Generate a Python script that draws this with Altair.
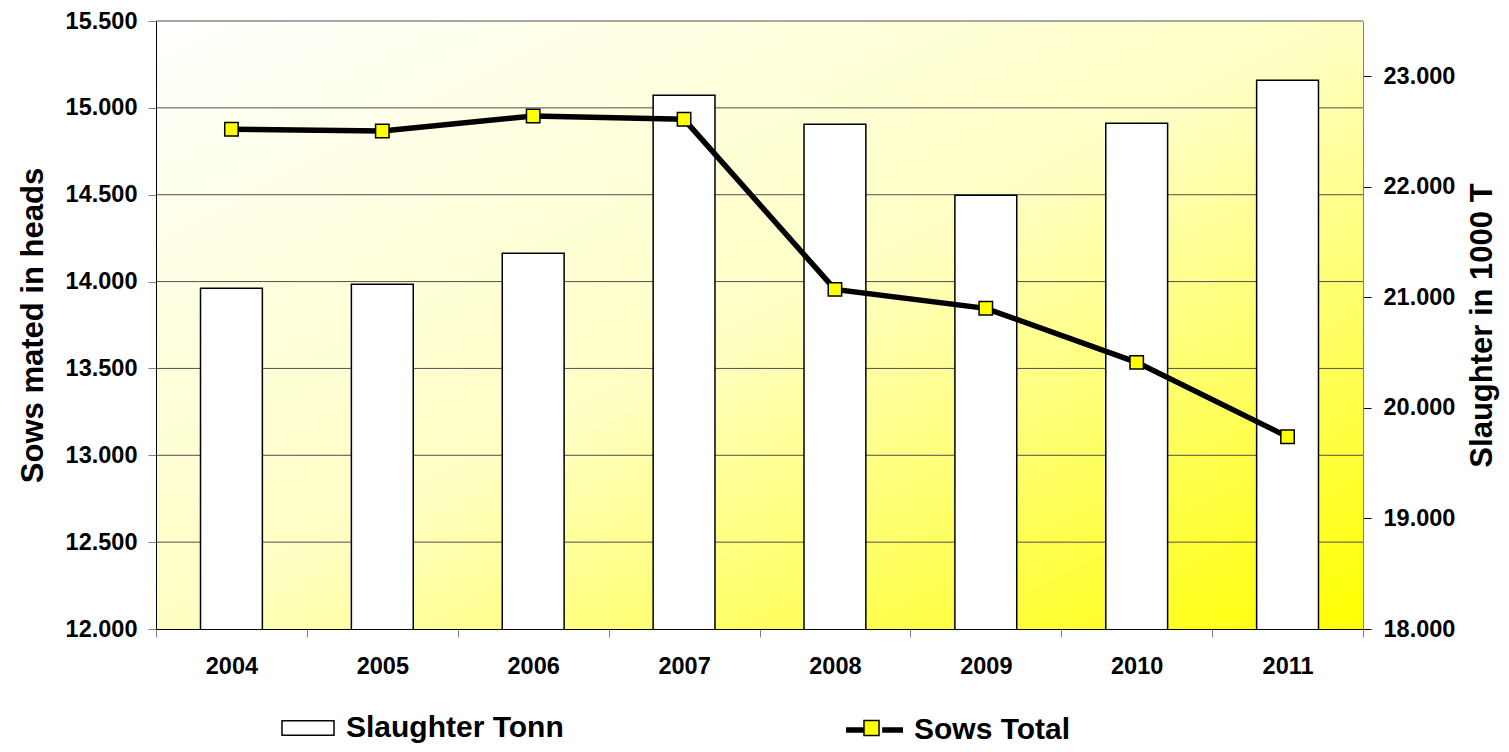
import altair as alt
import pandas as pd

years = ["2004", "2005", "2006", "2007", "2008", "2009", "2010", "2011"]
slaughter = [21083, 21119, 21400, 22828, 22566, 21924, 22575, 22964]
sows = [14877, 14867, 14953, 14934, 13955, 13846, 13535, 13107]
left_ticks = [12000, 12500, 13000, 13500, 14000, 14500, 15000, 15500]
right_ticks = [18000, 19000, 20000, 21000, 22000, 23000]
grid_vals = [12500, 13000, 13500, 14000, 14500, 15000, 15500]

W, H = 1207, 608
FONT = "Liberation Sans"
LBL = 23.5
TTL = 31
fmt = "replace(format(datum.value, ',.0f'), ',', '.')"

df = pd.DataFrame({
    "year": years,
    "slaughter": slaughter,
    "sows": sows,
    "bar_key": ["Slaughter Tonn"] * len(years),
    "line_key": ["Sows Total"] * len(years),
    "pt_key": ["Sows Total "] * len(years),
})
grid_df = pd.DataFrame({"g": grid_vals})

xaxis = alt.Axis(title=None, labelAngle=0, tickBand="extent", labelFontSize=LBL,
                 labelFont=FONT, labelFontWeight="bold", labelColor="black",
                 labelPadding=17, tickSize=8, tickColor="#808080", domainColor="black",
                 domainWidth=1, grid=False, zindex=1)
xenc = alt.X("year:N", sort=years, scale=alt.Scale(paddingInner=0, paddingOuter=0), axis=xaxis)

left_scale = alt.Scale(domain=[12000, 15500], nice=False, zero=False)
right_scale = alt.Scale(domain=[18000, 23500], nice=False, zero=False)

bg = alt.Chart(alt.Data(values=[{"k": 0}])).mark_rect(
    fill=alt.Gradient(
        gradient="linear",
        stops=[alt.GradientStop(color="#FFFFFF", offset=0),
               alt.GradientStop(color="#FFFFC4", offset=0.5),
               alt.GradientStop(color="#FFFF00", offset=1)],
        x1=0, y1=0, x2=1, y2=1),
    strokeWidth=0,
).encode(x=alt.value(0), x2=alt.value(W), y=alt.value(0), y2=alt.value(H))

grid = alt.Chart(grid_df).mark_rule(color="#505050", strokeWidth=1).encode(
    y=alt.Y("g:Q", scale=left_scale, axis=None)
)

bars = alt.Chart(df).mark_bar(stroke="black", strokeWidth=1.5, clip=True,
                              width=alt.RelativeBandSize(0.41)).encode(
    x=xenc,
    y=alt.Y("slaughter:Q", scale=right_scale,
            axis=alt.Axis(orient="right", values=right_ticks, labelExpr=fmt,
                          title="Slaughter in 1000 T", titleAngle=270,
                          titleBaseline="alphabetic", titleX=128, titleY=H / 2,
                          titleFontSize=TTL, titleFont=FONT, titleFontWeight="bold",
                          titleColor="black",
                          labelFontSize=LBL, labelFont=FONT, labelFontWeight="bold",
                          labelColor="black", labelPadding=12, tickSize=8,
                          tickColor="black", domainColor="#808080", grid=False,
                          zindex=1)),
    fill=alt.Fill("bar_key:N", scale=alt.Scale(domain=["Slaughter Tonn"], range=["white"]),
                  legend=alt.Legend(title=None, orient="none", legendX=125, legendY=680,
                                    padding=0,
                                    symbolType="M-1,-0.28L1,-0.28L1,0.28L-1,0.28Z",
                                    symbolSize=2704, symbolStrokeColor="black",
                                    symbolStrokeWidth=1.5, symbolFillColor="white",
                                    labelFontSize=30, labelFont=FONT,
                                    labelFontWeight="bold", labelColor="black",
                                    labelOffset=11, labelLimit=400)),
)

line = alt.Chart(df).mark_line(strokeWidth=5.5).encode(
    x=xenc,
    y=alt.Y("sows:Q", scale=left_scale,
            axis=alt.Axis(orient="left", values=left_ticks, labelExpr=fmt,
                          title="Sows mated in heads", titleAngle=270,
                          titleBaseline="alphabetic", titleX=-114, titleY=H / 2,
                          titleFontSize=TTL, titleFont=FONT, titleFontWeight="bold",
                          titleColor="black",
                          labelFontSize=LBL, labelFont=FONT, labelFontWeight="bold",
                          labelColor="black", labelPadding=11, tickSize=8,
                          tickColor="#808080", domainColor="black", grid=False,
                          zindex=1)),
    stroke=alt.Stroke("line_key:N", scale=alt.Scale(domain=["Sows Total"], range=["black"]),
                      legend=alt.Legend(title=None, orient="none", legendX=687, legendY=677.5,
                                        padding=0,
                                        symbolType="M-1,0L-0.27,0M0.27,0L1,0",
                                        symbolSize=3249, symbolStrokeWidth=5.5,
                                        symbolStrokeColor="black",
                                        labelFontSize=30, labelFont=FONT,
                                        labelFontWeight="bold", labelColor="black",
                                        labelOffset=8, labelLimit=400)),
)

points = alt.Chart(df).mark_point(filled=True, fill="#FFFF00", strokeWidth=1.5,
                                  shape="square", size=180, opacity=1).encode(
    x=xenc,
    y=alt.Y("sows:Q", scale=left_scale, axis=None),
    stroke=alt.Stroke("pt_key:N", scale=alt.Scale(domain=["Sows Total "], range=["black"]),
                      legend=alt.Legend(title=None, orient="none", legendX=707, legendY=698.5,
                                        padding=0, symbolType="square", symbolSize=225,
                                        symbolFillColor="#FFFF00", symbolStrokeColor="black",
                                        symbolStrokeWidth=1.5, labelExpr="''",
                                        labelFontSize=1)),
)

chart = alt.layer(bg, grid, bars, line, points).resolve_scale(
    y="independent", fill="independent", stroke="independent"
).resolve_legend(
    fill="independent", stroke="independent"
).properties(
    width=W, height=H,
    autosize=alt.AutoSizeParams(type="none"),
    padding={"left": 148, "top": 13, "right": 137, "bottom": 115},
).configure_view(stroke=None).configure(font=FONT)

chart.save("out.html", embed_options={"renderer": "svg", "actions": False})
